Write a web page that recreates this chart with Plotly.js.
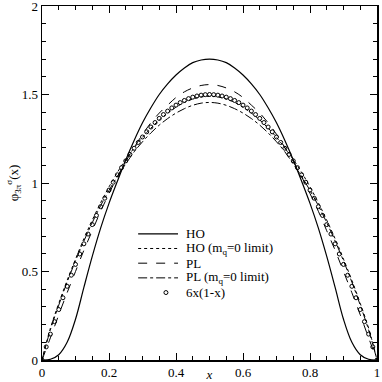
<!DOCTYPE html>
<html>
<head>
<meta charset="utf-8">
<script src="https://cdn.plot.ly/plotly-3.0.1.min.js"></script>
<style>
  html, body { margin: 0; padding: 0; background: #fff; }
  #da { width: 382px; height: 382px; }
</style>
</head>
<body>
<div id="da"></div>
<script>
// x grid for the model curves
var xLine = [0, 0.025, 0.05, 0.075, 0.1, 0.125, 0.15, 0.175, 0.2, 0.225, 0.25,
  0.275, 0.3, 0.325, 0.35, 0.375, 0.4, 0.425, 0.45, 0.475, 0.5,
  0.525, 0.55, 0.575, 0.6, 0.625, 0.65, 0.675, 0.7, 0.725, 0.75,
  0.775, 0.8, 0.825, 0.85, 0.875, 0.9, 0.925, 0.95, 0.975, 1];

// HO
var hoVals = [0, 0.004, 0.03, 0.10, 0.23, 0.41, 0.585, 0.745, 0.885, 1.01, 1.13,
  1.24, 1.34, 1.425, 1.50, 1.56, 1.61, 1.65, 1.68, 1.695, 1.70,
  1.695, 1.68, 1.65, 1.61, 1.56, 1.50, 1.425, 1.34, 1.24, 1.13,
  1.01, 0.885, 0.745, 0.585, 0.41, 0.23, 0.10, 0.03, 0.004, 0];

// HO (mq=0 limit)
var hoZeroVals = [0, 0.18, 0.32, 0.45, 0.57, 0.685, 0.79, 0.888, 0.978, 1.06, 1.133,
  1.198, 1.258, 1.31, 1.356, 1.395, 1.428, 1.455, 1.474, 1.486, 1.49,
  1.486, 1.474, 1.455, 1.428, 1.395, 1.356, 1.31, 1.258, 1.198, 1.133,
  1.06, 0.978, 0.888, 0.79, 0.685, 0.57, 0.45, 0.32, 0.18, 0];

// PL
var plVals = [0, 0.125, 0.255, 0.38, 0.50, 0.62, 0.73, 0.84, 0.94, 1.035, 1.122,
  1.20, 1.275, 1.34, 1.395, 1.44, 1.483, 1.515, 1.537, 1.551, 1.556,
  1.551, 1.537, 1.515, 1.483, 1.44, 1.395, 1.34, 1.275, 1.20, 1.122,
  1.035, 0.94, 0.84, 0.73, 0.62, 0.50, 0.38, 0.255, 0.125, 0];

// PL (mq=0 limit)
var plZeroVals = [0, 0.17, 0.31, 0.44, 0.56, 0.672, 0.776, 0.872, 0.958, 1.037, 1.108,
  1.176, 1.233, 1.283, 1.327, 1.364, 1.395, 1.42, 1.439, 1.451, 1.455,
  1.451, 1.439, 1.42, 1.395, 1.364, 1.327, 1.283, 1.233, 1.176, 1.108,
  1.037, 0.958, 0.872, 0.776, 0.672, 0.56, 0.44, 0.31, 0.17, 0];

// 6x(1-x) points
var xAsy = [0, 0.0125, 0.025, 0.0375, 0.05, 0.0625, 0.075, 0.0875, 0.1, 0.1125,
  0.125, 0.1375, 0.15, 0.1625, 0.175, 0.1875, 0.2, 0.2125, 0.225, 0.2375,
  0.25, 0.2625, 0.275, 0.2875, 0.3, 0.3125, 0.325, 0.3375, 0.35, 0.3625,
  0.375, 0.3875, 0.4, 0.4125, 0.425, 0.4375, 0.45, 0.4625, 0.475, 0.4875, 0.5,
  0.5125, 0.525, 0.5375, 0.55, 0.5625, 0.575, 0.5875, 0.6, 0.6125,
  0.625, 0.6375, 0.65, 0.6625, 0.675, 0.6875, 0.7, 0.7125, 0.725, 0.7375,
  0.75, 0.7625, 0.775, 0.7875, 0.8, 0.8125, 0.825, 0.8375, 0.85, 0.8625,
  0.875, 0.8875, 0.9, 0.9125, 0.925, 0.9375, 0.95, 0.9625, 0.975, 0.9875, 1];
var asyVals = [0, 0.0741, 0.1463, 0.2166, 0.285, 0.3516, 0.4163, 0.4791, 0.54, 0.5991,
  0.6563, 0.7116, 0.765, 0.8166, 0.8663, 0.9141, 0.96, 1.0041, 1.0463, 1.0866,
  1.125, 1.1616, 1.1963, 1.2291, 1.26, 1.2891, 1.3163, 1.3416, 1.365, 1.3866,
  1.4063, 1.4241, 1.44, 1.4541, 1.4663, 1.4766, 1.485, 1.4916, 1.4963, 1.4991, 1.5,
  1.4991, 1.4963, 1.4916, 1.485, 1.4766, 1.4663, 1.4541, 1.44, 1.4241,
  1.4063, 1.3866, 1.365, 1.3416, 1.3163, 1.2891, 1.26, 1.2291, 1.1963, 1.1616,
  1.125, 1.0866, 1.0463, 1.0041, 0.96, 0.9141, 0.8663, 0.8166, 0.765, 0.7116,
  0.6563, 0.5991, 0.54, 0.4791, 0.4163, 0.3516, 0.285, 0.2166, 0.1463, 0.0741, 0];

// legend entries (drawn by hand so the rows can sit as close as in the original)
var legendNames = ["HO", "HO (m<sub>q</sub>=0 limit)", "PL", "PL (m<sub>q</sub>=0 limit)", "6x(1-x)"];
var legendDash = ["solid", "dot", "dash", "dashdot", null];

var serif = "Liberation Serif";

var ho = {
  x: xLine, y: hoVals, type: "scatter", mode: "lines", name: "HO",
  line: { color: "black", width: 1.2, shape: "spline" }
};
var hoZero = {
  x: xLine, y: hoZeroVals, type: "scatter", mode: "lines", name: "HO (mq=0 limit)",
  line: { color: "black", width: 1, dash: "dot", shape: "spline" }
};
var pl = {
  x: xLine, y: plVals, type: "scatter", mode: "lines", name: "PL",
  line: { color: "black", width: 1, dash: "dash", shape: "spline" }
};
var plZero = {
  x: xLine, y: plZeroVals, type: "scatter", mode: "lines", name: "PL (mq=0 limit)",
  line: { color: "black", width: 1, dash: "dashdot", shape: "spline" }
};
var asy = {
  x: xAsy, y: asyVals, type: "scatter", mode: "markers", name: "6x(1-x)",
  marker: { symbol: "circle-open", size: 4, color: "black", line: { width: 1 } }
};

var data = [ho, hoZero, pl, plZero, asy];

// legend block in data units: text left edge, sample line span, first row and row step
var legX = 0.424, legX0 = 0.287, legX1 = 0.406, legTop = 0.713, legStep = 0.083;
var annotations = [];
var shapes = [];
for (var i = 0; i < legendNames.length; i++) {
  var yy = legTop - i * legStep;
  annotations.push({
    x: legX, y: yy, xref: "x", yref: "y", text: legendNames[i],
    showarrow: false, xanchor: "left", yanchor: "middle",
    font: { family: serif, size: 13, color: "black" }
  });
  if (legendDash[i]) {
    shapes.push({
      type: "line", xref: "x", yref: "y", x0: legX0, x1: legX1, y0: yy, y1: yy,
      line: { color: "black", width: i === 0 ? 1.2 : 1, dash: legendDash[i] }
    });
  } else {
    shapes.push({
      type: "circle", xref: "x", yref: "y", xsizemode: "pixel", ysizemode: "pixel",
      xanchor: 0.37, yanchor: yy, x0: -2, x1: 2, y0: -2, y1: 2,
      line: { color: "black", width: 1 }
    });
  }
}

var layout = {
  width: 382, height: 382,
  margin: { l: 42, r: 5, t: 6, b: 22 },
  paper_bgcolor: "white", plot_bgcolor: "white",
  font: { family: serif, size: 13, color: "black" },
  showlegend: false,
  annotations: annotations,
  shapes: shapes,
  xaxis: {
    range: [0, 1], dtick: 0.2, showgrid: false, zeroline: false,
    showline: true, linecolor: "black", linewidth: 1.5, mirror: "ticks",
    ticks: "inside", ticklen: 7, tickcolor: "black", ticklabeloverflow: "allow",
    minor: { dtick: 0.05, ticks: "inside", ticklen: 4, tickcolor: "black" },
    title: { text: "<i>x</i>", standoff: 0, font: { family: serif, size: 13 } }
  },
  yaxis: {
    range: [0, 2], dtick: 0.5, showgrid: false, zeroline: false,
    showline: true, linecolor: "black", linewidth: 1.5, mirror: "ticks",
    ticks: "inside", ticklen: 7, tickcolor: "black", ticklabeloverflow: "allow",
    minor: { dtick: 0.1, ticks: "inside", ticklen: 4, tickcolor: "black" },
    title: { text: "\u03c6<sub>3\u03c0</sub><sup>\u03c3</sup>(x)", standoff: 0, font: { family: serif, size: 13 } }
  }
};

Plotly.newPlot("da", data, layout, { staticPlot: true });
</script>
</body>
</html>
